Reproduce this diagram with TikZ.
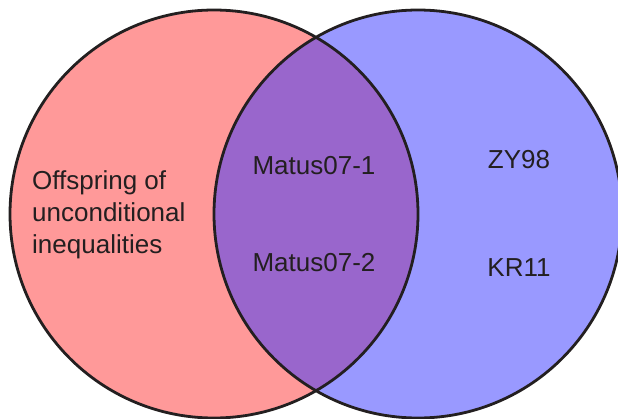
\documentclass[tikz,border=0pt]{standalone}
\usepackage{fontspec}
\setmainfont{Liberation Sans}
\definecolor{setred}{RGB}{255,153,153}
\definecolor{setblue}{RGB}{153,153,255}
\definecolor{setboth}{RGB}{153,102,204}
\definecolor{inkdark}{RGB}{35,31,32}

\begin{document}
\begin{tikzpicture}[x=1pt, y=-1pt, every node/.style={font=\fontsize{26}{32}\selectfont, text=inkdark, inner sep=0pt}]
    \useasboundingbox (0,0) rectangle (618,418);
    \clip (0,0) rectangle (618,418);
    \coordinate (O1) at (214,214); \coordinate (O2) at (418,214);
    \fill[setred] (O1) circle (204pt); \fill[setblue] (O2) circle (204pt);
    \begin{scope}
        \clip (O1) circle (204pt);
        \fill[setboth] (O2) circle (204pt);
    \end{scope}
    \draw[line width=2.8pt, inkdark] (O1) circle (204pt); \draw[line width=2.8pt, inkdark] (O2) circle (204pt);

    \node[anchor=base west, align=left] (offspring) at (32,253) {Offspring of\\unconditional\\inequalities};
    \node (matusA) at (314,166) {Matus07-1}; \node (matusB) at (314,263) {Matus07-2};
    \node (zy) at (519,160) {ZY98}; \node (kr) at (519,268) {KR11};
\end{tikzpicture}
\end{document}
